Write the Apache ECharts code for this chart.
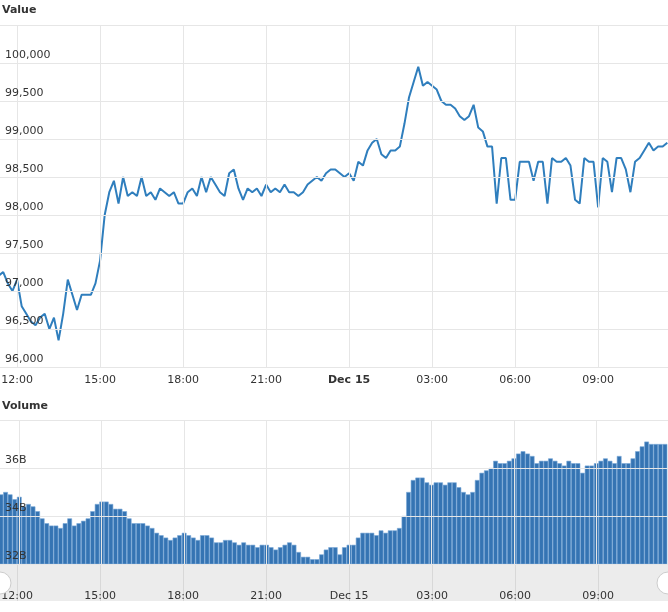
<!DOCTYPE html>
<html><head><meta charset="utf-8">
<script src="https://cdn.jsdelivr.net/npm/echarts@6/dist/echarts.min.js"></script>
<style>html,body{margin:0;padding:0;background:#fff}#c{width:668px;height:612px}</style>
</head><body><div id="c"></div>
<script>
// 10-minute samples starting Dec 14 11:20
const startTime = [2024, 11, 14, 11, 20];
const stepMinutes = 10;
const priceValues = [97200,97250,97100,97000,97150,96800,96700,96600,96550,96650,96700,96500,96650,96350,96700,97150,96950,96750,96950,96950,
96950,97100,97400,98000,98300,98450,98150,98500,98250,98300,98250,98500,98250,98300,98200,98350,98300,98250,98300,98150,
98150,98300,98350,98250,98500,98300,98500,98400,98300,98250,98550,98600,98350,98200,98350,98300,98350,98250,98400,98300,
98350,98300,98400,98300,98300,98250,98300,98400,98450,98500,98450,98550,98600,98600,98550,98500,98550,98450,98700,98650,
98850,98950,99000,98800,98750,98850,98850,98900,99200,99550,99750,99950,99700,99750,99700,99650,99500,99450,99450,99400,
99300,99250,99300,99450,99150,99100,98900,98900,98150,98750,98750,98200,98200,98700,98700,98700,98450,98700,98700,98150,
98750,98700,98700,98750,98650,98200,98150,98750,98700,98700,98100,98750,98700,98300,98750,98750,98600,98300,98700,98750,
98850,98950,98850,98900,98900,98950];
const volumeValues = [34.9,35.0,34.9,34.7,34.8,34.4,34.5,34.4,34.2,33.9,33.7,33.6,33.6,33.5,33.7,33.9,33.6,33.7,33.8,33.9,
34.2,34.5,34.6,34.6,34.5,34.3,34.3,34.2,33.9,33.7,33.7,33.7,33.6,33.5,33.3,33.2,33.1,33.0,33.1,33.2,
33.3,33.2,33.1,33.0,33.2,33.2,33.1,32.9,32.9,33.0,33.0,32.9,32.8,32.9,32.8,32.8,32.7,32.8,32.8,32.7,
32.6,32.7,32.8,32.9,32.8,32.5,32.3,32.3,32.2,32.2,32.4,32.6,32.7,32.7,32.4,32.7,32.8,32.8,33.1,33.3,
33.3,33.3,33.2,33.4,33.3,33.4,33.4,33.5,34.0,35.0,35.5,35.6,35.6,35.4,35.3,35.4,35.4,35.3,35.4,35.4,
35.2,35.0,34.9,35.0,35.5,35.8,35.9,36.0,36.3,36.2,36.2,36.3,36.4,36.6,36.7,36.6,36.5,36.2,36.3,36.3,
36.4,36.3,36.2,36.1,36.3,36.2,36.2,35.8,36.1,36.1,36.2,36.3,36.4,36.3,36.2,36.5,36.2,36.2,36.4,36.7,
36.9,37.1,37.0,37.0,37.0,37.0];
const tickHours = [[14,12],[14,15],[14,18],[14,21],[15,0],[15,3],[15,6],[15,9]];
const priceTicks = [96000,96500,97000,97500,98000,98500,99000,99500,100000];

const t0 = new Date(startTime[0], startTime[1], startTime[2], startTime[3], startTime[4]).getTime();
const H = 3600000;
const xMin = new Date(2024,11,14,11,23).getTime();
const xMax = xMin + 668/27.67*H;
const ticks = tickHours.map(d => new Date(2024,11,d[0],d[1],0).getTime());
const priceData = priceValues.map((v,i)=>[t0+i*stepMinutes*60000, v]);
const volData = volumeValues.map((v,i)=>[t0+i*stepMinutes*60000, v*1e9]);
const font = 'DejaVu Sans';
const pad = n => (n<10?'0':'')+n;
function fmt(v){const d=new Date(v); if(d.getHours()===0) return '{b|Dec 15}'; return pad(d.getHours())+':00';}
const vlines = {silent:true, symbol:'none', animation:false, label:{show:false}, lineStyle:{color:'#e6e6e6',width:1,type:'solid'}, data: ticks.map(t=>({xAxis:t}))};
const labelStyle = {show:true, position:'start', distance:8, color:'#333', fontFamily:font, fontSize:11,
  formatter:p=>fmt(p.value), rich:{b:{fontWeight:'bold',fontFamily:font,fontSize:11,color:'#333'}}};
function xAx(grid, line){
  return {type:'time', gridIndex:grid, min:xMin, max:xMax,
    axisLine:{show:line, lineStyle:{color:'#ccd6eb'}}, axisTick:{show:false}, splitLine:{show:false}, axisLabel:{show:false}};
}
const chart = echarts.init(document.getElementById('c'));
chart.setOption({
  animation:false,
  graphic:[
    {type:'text', left:2, top:5, style:{text:'Value', font:'bold 11px DejaVu Sans', fill:'#333'}},
    {type:'text', left:2, top:401, style:{text:'Volume', font:'bold 11px DejaVu Sans', fill:'#333'}},
    {type:'rect', shape:{x:0,y:565,width:668,height:36}, style:{fill:'#ececec'}, z:-1},
    {type:'circle', shape:{cx:0,cy:583,r:11}, style:{fill:'#fff',stroke:'#ccc'}, z:10},
    {type:'circle', shape:{cx:668,cy:583,r:11}, style:{fill:'#fff',stroke:'#ccc'}, z:10}
  ],
  grid:[
    {left:0,right:0,top:25,height:342},
    {left:0,right:0,top:420,height:144},
    {left:0,right:0,top:565,height:36}
  ],
  xAxis:[ xAx(0,true), xAx(1,false), xAx(2,false) ],
  yAxis:[
    {type:'value', gridIndex:0, min:96000, max:100500, interval:500, position:'left',
     axisLine:{show:false}, axisTick:{show:false},
     splitLine:{lineStyle:{color:'#e6e6e6'}},
     axisLabel:{inside:true, showMaxLabel:false, verticalAlign:'bottom', margin:5, padding:[0,0,2,0], color:'#333', fontFamily:font, fontSize:11,
       formatter:v=>priceTicks.indexOf(v)>=0?v.toLocaleString('en-US'):''}, z:5},
    {type:'value', gridIndex:1, min:32e9, max:38e9, interval:2e9,
     axisLine:{show:false}, axisTick:{show:false},
     splitLine:{lineStyle:{color:'#e6e6e6'}},
     axisLabel:{inside:true, showMaxLabel:false, verticalAlign:'bottom', margin:5, padding:[0,0,2,0], color:'#333', fontFamily:font, fontSize:11,
       formatter:v=>(v/1e9)+'B'}, z:5},
    {type:'value', gridIndex:2, min:0, max:1, show:false}
  ],
  series:[
    {type:'line', xAxisIndex:0, yAxisIndex:0, data:priceData, showSymbol:false, clip:true,
     lineStyle:{color:'#2f7ebd', width:2}, markLine:Object.assign({}, vlines, {label:labelStyle})},
    {type:'bar', xAxisIndex:1, yAxisIndex:1, data:volData, barWidth:4.7, clip:true,
     itemStyle:{color:'#3574b3', borderColor:'#78a7d6', borderWidth:0.6}, markLine:vlines},
    {type:'line', xAxisIndex:2, yAxisIndex:2, data:[], markLine:Object.assign({}, vlines, {lineStyle:{color:'#d8d8d8',width:1,type:'solid'}})},
    {type:'line', xAxisIndex:2, yAxisIndex:2, data:[[xMin,0]], showSymbol:false, lineStyle:{width:0}, markLine:{silent:true, symbol:'none', animation:false,
      lineStyle:{color:'rgba(0,0,0,0)', width:1}, label:Object.assign({}, labelStyle, {distance:2, formatter:p=>fmt(p.data.coord ? p.data.coord[0] : p.value).replace('{b|','').replace('}','')}),
      data: ticks.map(t=>[{coord:[t,0.34], value:t},{coord:[t,1]}])}}
  ]
});
</script></body></html>
